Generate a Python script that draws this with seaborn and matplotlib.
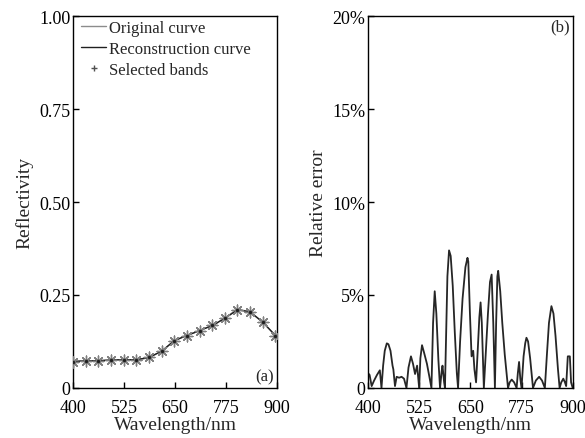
import numpy as np
import pandas as pd
import matplotlib
matplotlib.use("Agg")
import matplotlib.pyplot as plt
import seaborn as sns

# ---------------- data ----------------
orig_wl = [400, 410, 420, 430, 440, 450, 460, 470, 480, 490, 500, 510, 520, 530, 540, 550,
           560, 570, 580, 590, 600, 610, 620, 630, 640, 650, 660, 670, 680, 690, 700, 710,
           720, 730, 740, 750, 760, 770, 780, 790, 800, 810, 820, 830, 840, 850, 860, 870,
           880, 890, 900]
orig_refl = [0.070, 0.072, 0.073, 0.073, 0.073, 0.073, 0.073, 0.074, 0.075, 0.075, 0.075,
             0.076, 0.076, 0.076, 0.076, 0.076, 0.077, 0.078, 0.080, 0.084, 0.089, 0.095,
             0.102, 0.110, 0.120, 0.128, 0.133, 0.138, 0.142, 0.146, 0.150, 0.155, 0.159,
             0.163, 0.167, 0.172, 0.180, 0.186, 0.194, 0.202, 0.208, 0.210, 0.208, 0.205,
             0.198, 0.190, 0.181, 0.171, 0.160, 0.148, 0.138]

band_wl = [400, 431, 462, 493, 524, 555, 586, 617, 648, 679, 710, 741, 772, 803, 834, 865, 896]
band_refl = [0.071, 0.073, 0.073, 0.075, 0.076, 0.076, 0.082, 0.099, 0.127, 0.141, 0.154,
             0.168, 0.187, 0.210, 0.205, 0.177, 0.141]

err_wl = [400, 404, 409, 415, 422, 429, 433, 437, 441, 446, 450, 455, 460, 462, 466, 470,
          476, 482, 488, 494, 499, 505, 510, 515, 520, 525, 528, 532, 537, 544, 550, 555,
          559, 563, 567, 572, 576, 580, 582, 586, 588, 591, 594, 598, 602, 607, 612, 617,
          620, 625, 631, 638, 643, 645, 649, 653, 657, 660, 664, 668, 672, 675, 678, 683,
          688, 693, 698, 702, 706, 710, 713, 716, 718, 723, 728, 734, 742, 746, 751, 757,
          763, 766, 769, 772, 775, 780, 784, 787, 791, 796, 803, 810, 818, 825, 832, 837,
          842, 848, 853, 858, 864, 868, 872, 877, 881, 884, 888, 893, 896, 900]
err_pct = [0.8, 0.7, 0.1, 0.4, 0.7, 0.95, 0.0, 1.2, 2.0, 2.4, 2.35, 2.0, 1.2, 1.0, 0.1, 0.6,
           0.55, 0.6, 0.5, 0.0, 1.1, 1.7, 1.3, 0.75, 1.2, 0.0, 1.6, 2.3, 1.9, 1.3, 0.6, 0.0,
           3.5, 5.2, 4.0, 1.5, 0.0, 0.9, 1.2, 0.3, 0.0, 3.0, 6.0, 7.4, 7.1, 5.5, 3.0, 0.8,
           0.0, 2.5, 4.8, 6.5, 7.0, 6.8, 4.0, 1.7, 2.0, 1.0, 0.3, 2.0, 3.8, 4.6, 3.5, 0.0,
           2.0, 4.0, 5.7, 6.1, 3.5, 0.0, 3.5, 6.0, 6.3, 5.2, 3.5, 1.8, 0.0, 0.3, 0.45, 0.3,
           0.0, 0.8, 1.4, 0.5, 0.0, 1.7, 2.4, 2.7, 2.5, 1.6, 0.0, 0.4, 0.6, 0.4, 0.0, 1.8,
           3.5, 4.4, 4.0, 2.8, 1.0, 0.0, 0.3, 0.5, 0.3, 0.1, 1.7, 1.7, 0.3, 0.0]

x_ticks = [400, 525, 650, 775, 900]
left_yticks = [0, 0.25, 0.50, 0.75, 1.00]
left_ylabels = ["0", "0.25", "0.50", "0.75", "1.00"]
right_yticks = [0, 5, 10, 15, 20]
right_ylabels = ["0", "5%", "10%", "15%", "20%"]

# ---------------- style ----------------
sns.set_style("ticks")
plt.rcParams['font.family'] = ['Liberation Serif', 'DejaVu Serif']

fig = plt.figure(figsize=(5.85, 4.39), dpi=100)
ax1 = fig.add_axes([0.125, 0.114, 0.3485, 0.847])
ax2 = fig.add_axes([0.629, 0.114, 0.350, 0.847])

orig_df = pd.DataFrame({"wl": orig_wl, "r": orig_refl})
band_df = pd.DataFrame({"wl": band_wl, "r": band_refl})
err_df = pd.DataFrame({"wl": err_wl, "e": err_pct})

# left panel
sns.lineplot(data=orig_df, x="wl", y="r", ax=ax1, color="#8c8c8c", lw=1.0,
             label="Original curve")
sns.lineplot(data=band_df, x="wl", y="r", ax=ax1, color="#202020", lw=1.0,
             label="Reconstruction curve")
sns.scatterplot(data=band_df, x="wl", y="r", ax=ax1, marker=(8, 2, 0), s=60,
                color="#808080", linewidth=1.0, edgecolor="#808080", zorder=3)
sns.scatterplot(data=band_df, x="wl", y="r", ax=ax1, marker="o", s=6,
                color="#202020", linewidth=0, zorder=4)
ax1.plot([], [], linestyle="none", marker="+", color="#505050", markersize=5,
         label="Selected bands")

ax1.set_xlim(400, 900)
ax1.set_ylim(0, 1.0)
ax1.set_xticks(x_ticks)
ax1.set_yticks(left_yticks)
ax1.set_yticklabels(left_ylabels)
ax1.set_xlabel("Wavelength/nm", fontsize=14)
ax1.set_ylabel("Reflectivity", fontsize=14)
leg = ax1.legend(loc="upper left", bbox_to_anchor=(0.04, 0.99), frameon=False,
                 fontsize=12, handlelength=1.5, handletextpad=0.15,
                 labelspacing=0.3, borderaxespad=0.0, borderpad=0.0)
ax1.text(0.985, 0.01, "(a)", transform=ax1.transAxes, ha="right", va="bottom", fontsize=12)

# right panel
sns.lineplot(data=err_df, x="wl", y="e", ax=ax2, color="#262626", lw=1.3)
ax2.set_xlim(400, 900)
ax2.set_ylim(0, 20)
ax2.set_xticks(x_ticks)
ax2.set_yticks(right_yticks)
ax2.set_yticklabels(right_ylabels)
ax2.set_xlabel("Wavelength/nm", fontsize=14)
ax2.set_ylabel("Relative error", fontsize=14)
ax2.text(0.985, 0.995, "(b)", transform=ax2.transAxes, ha="right", va="top", fontsize=12)

for ax in (ax1, ax2):
    for sp in ax.spines.values():
        sp.set_visible(True)
        sp.set_color("black")
        sp.set_linewidth(1.0)
    ax.tick_params(direction="in", length=4, width=1, labelsize=13,
                   top=False, right=False, colors="black")
    ax.tick_params(axis="x", pad=8)
    ax.tick_params(axis="y", pad=2)
    ax.xaxis.labelpad = 0
    ax.yaxis.labelpad = 4

fig.savefig("out.png", dpi=100)
